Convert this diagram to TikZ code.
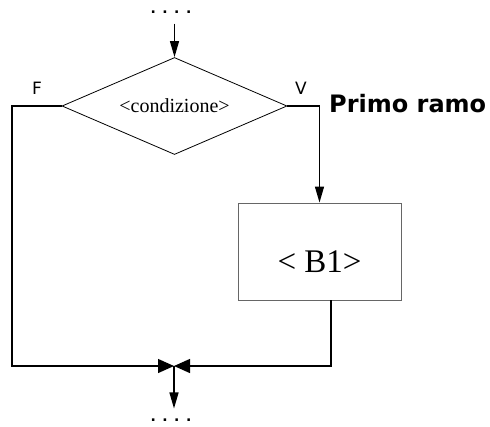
\documentclass[tikz,border=0pt]{standalone}
\usepackage{fontspec}
\setmainfont{Liberation Serif}
\newfontfamily\lblfont{DejaVu Sans}
\usetikzlibrary{arrows.meta, positioning, shapes.geometric}

\begin{document}
\begin{tikzpicture}[
    x=1pt, y=-1pt,
    cond/.style   ={draw, diamond, aspect=2.3, inner sep=0pt, line width=0.8pt,
                    minimum width=225pt, minimum height=97pt,
                    font=\fontsize{20}{20}\selectfont},
    block/.style  ={draw=gray!80!black, line width=0.9pt,
                    minimum width=163pt, minimum height=97pt,
                    text height=42pt, text depth=0pt,
                    font=\fontsize{33}{33}\selectfont},
    dots/.style   ={inner xsep=0pt, inner ysep=10pt,
                    font=\lblfont\bfseries\fontsize{14}{14}\selectfont},
    lbl/.style    ={font=\lblfont\fontsize{17}{17}\selectfont, inner sep=0pt},
    arr/.style    ={-{Triangle[length=16pt, width=9pt]}, line width=1.3pt},
    jarr/.style   ={-{Triangle[length=16pt, width=14pt]}, line width=1.3pt}
]
\useasboundingbox (0,0) rectangle (490,426);

%% ── Flow ends ────────────────────────────────────────────────────
\node[dots] (topdots) at (171, 12)  {.\hspace{6.5pt}.\hspace{6.5pt}.\hspace{6.5pt}.};
\node[dots] (botdots) at (171, 420) {.\hspace{6.5pt}.\hspace{6.5pt}.\hspace{6.5pt}.};

%% ── Decision and first branch ───────────────────────────────────
\node[cond]  (test)   at (174.5, 106) {<condizione>};
\node[block] (blocco) at (319.5, 251.5) {< B1>};

%% ── Labels ───────────────────────────────────────────────────────
\node[lbl] (flab) at (37, 88)  {F};
\node[lbl] (vlab) at (301, 88) {V};
\node[lbl, anchor=west, font=\lblfont\bfseries\fontsize{24}{24}\selectfont]
    (ramo) at (329, 104) {Primo ramo};

%% ── Corners and join point ───────────────────────────────────────
\coordinate (lcorner) at (12, 366);
\coordinate (rexit)   at (331, 300);
\coordinate (join)    at (174, 366);

%% ── Connectors ───────────────────────────────────────────────────
\draw[arr]  (test.north |- topdots.south) -- (test.north);
\draw[arr]  (test.east) -| (blocco.north);
\draw[jarr] (test.west) -| (lcorner) -- (join);
\draw[jarr] (rexit) |- (join);
\draw[arr]  (join) -- (join |- botdots.north);

\end{tikzpicture}
\end{document}
